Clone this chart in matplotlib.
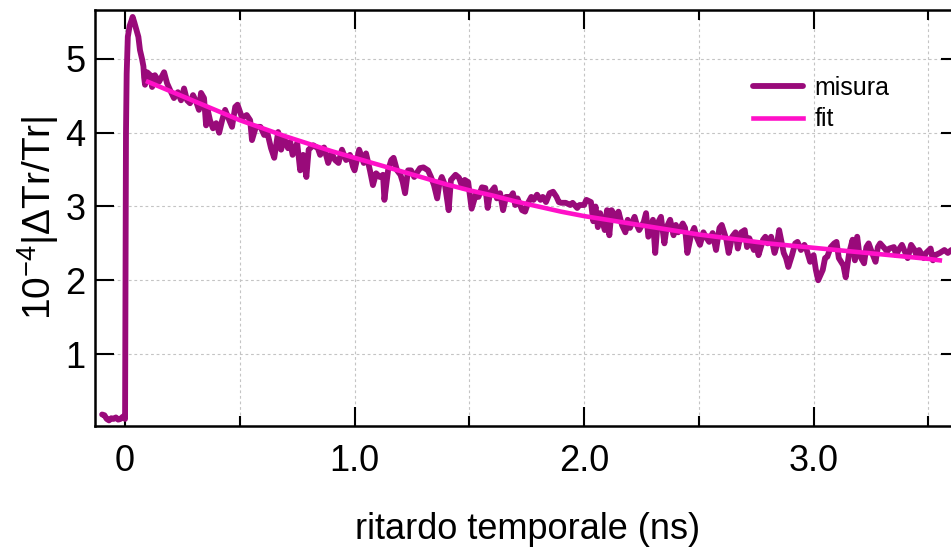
import matplotlib
matplotlib.use("Agg")
import matplotlib.pyplot as plt

plt.rcParams['font.family'] = ['Liberation Sans', 'DejaVu Sans']
plt.rcParams['mathtext.fontset'] = 'custom'
plt.rcParams['mathtext.rm'] = 'Liberation Sans'
plt.rcParams['mathtext.it'] = 'Liberation Sans:italic'

# misura: ritardo (ns) e segnale (unita 1e-4)
t_misura = [
    -0.10, -0.09, -0.08, -0.07, -0.06, -0.05, -0.04, -0.03, -0.02, -0.01, 0.000,
    0.002, 0.004, 0.007, 0.012, 0.020, 0.028, 0.033, 0.040, 0.050, 0.058, 0.065,
    0.074, 0.080, 0.083, 0.087, 0.096, 0.110, 0.118, 0.130, 0.148, 0.170, 0.183,
    0.196, 0.213, 0.230, 0.244, 0.257, 0.270, 0.283, 0.296, 0.310, 0.322, 0.331,
    0.344, 0.353, 0.360, 0.370, 0.383, 0.397, 0.410, 0.423, 0.436, 0.450, 0.466,
    0.480, 0.490, 0.510, 0.530, 0.545, 0.553, 0.570, 0.590, 0.606, 0.620, 0.636,
    0.650, 0.667, 0.680, 0.693, 0.710, 0.720, 0.730, 0.750, 0.763, 0.776, 0.790,
    0.800, 0.820, 0.840, 0.850, 0.867, 0.885, 0.900, 0.915, 0.930, 0.945, 0.963,
    0.980, 0.993, 1.000, 1.020, 1.040, 1.050, 1.067, 1.080, 1.094, 1.110, 1.124,
    1.130, 1.146, 1.160, 1.170, 1.185, 1.200, 1.210, 1.220, 1.233, 1.246, 1.260,
    1.270, 1.285, 1.300, 1.320, 1.333, 1.346, 1.360, 1.370, 1.380, 1.394, 1.410,
    1.420, 1.440, 1.455, 1.470, 1.480, 1.495, 1.510, 1.530, 1.540, 1.555, 1.570,
    1.580, 1.590, 1.610, 1.620, 1.634, 1.647, 1.660, 1.680, 1.690, 1.700, 1.710,
    1.730, 1.743, 1.756, 1.770, 1.780, 1.795, 1.810, 1.820, 1.834, 1.850, 1.865,
    1.880, 1.890, 1.900, 1.920, 1.940, 1.950, 1.970, 1.980, 2.000, 2.010, 2.030,
    2.040, 2.050, 2.060, 2.070, 2.090, 2.100, 2.110, 2.120, 2.140, 2.150, 2.165,
    2.180, 2.190, 2.200, 2.220, 2.230, 2.240, 2.260, 2.270, 2.280, 2.300, 2.310,
    2.320, 2.335, 2.350, 2.360, 2.375, 2.390, 2.400, 2.410, 2.430, 2.440, 2.450,
    2.466, 2.480, 2.490, 2.505, 2.520, 2.530, 2.545, 2.560, 2.575, 2.590, 2.600,
    2.620, 2.630, 2.645, 2.660, 2.670, 2.685, 2.700, 2.710, 2.720, 2.740, 2.750,
    2.760, 2.780, 2.790, 2.800, 2.815, 2.830, 2.840, 2.850, 2.870, 2.880, 2.890,
    2.906, 2.920, 2.930, 2.945, 2.960, 2.970, 2.985, 3.000, 3.010, 3.020, 3.040,
    3.050, 3.060, 3.075, 3.090, 3.100, 3.110, 3.130, 3.140, 3.155, 3.170, 3.180,
    3.190, 3.200, 3.220, 3.230, 3.240, 3.255, 3.270, 3.280, 3.290, 3.310, 3.320,
    3.330, 3.350, 3.360, 3.370, 3.385, 3.400, 3.410, 3.425, 3.440, 3.450, 3.460,
    3.480, 3.490, 3.510, 3.520, 3.530, 3.550, 3.570, 3.585, 3.600,
]
s_misura = [
    0.18, 0.17, 0.12, 0.10, 0.13, 0.12, 0.14, 0.11, 0.12, 0.15, 0.12,
    2.00, 4.00, 4.80, 5.30, 5.45, 5.52, 5.57, 5.50, 5.39, 5.30, 5.12,
    5.00, 4.90, 4.75, 4.65, 4.82, 4.78, 4.62, 4.78, 4.69, 4.82, 4.67,
    4.58, 4.47, 4.55, 4.44, 4.60, 4.44, 4.40, 4.51, 4.42, 4.31, 4.54,
    4.47, 4.10, 4.31, 4.17, 4.06, 4.13, 4.00, 4.17, 4.31, 4.20, 4.08,
    4.35, 4.38, 4.20, 4.24, 4.17, 3.90, 4.08, 4.08, 3.97, 4.00, 3.79,
    3.66, 4.01, 3.77, 3.93, 3.79, 3.87, 3.70, 3.86, 3.49, 3.70, 3.40,
    3.77, 3.83, 3.79, 3.70, 3.80, 3.59, 3.72, 3.63, 3.59, 3.77, 3.63,
    3.70, 3.54, 3.49, 3.77, 3.59, 3.72, 3.49, 3.29, 3.45, 3.40, 3.43,
    3.09, 3.49, 3.63, 3.66, 3.49, 3.43, 3.33, 3.18, 3.49, 3.49, 3.40,
    3.45, 3.52, 3.53, 3.49, 3.40, 3.29, 3.11, 3.32, 3.40, 3.29, 2.95,
    3.36, 3.43, 3.39, 3.26, 3.36, 3.33, 2.97, 3.18, 3.13, 3.26, 3.25,
    2.98, 3.18, 3.26, 3.11, 3.18, 2.95, 3.13, 3.13, 3.18, 3.02, 3.11,
    2.95, 2.93, 3.05, 3.13, 3.09, 3.16, 3.09, 3.13, 3.06, 3.18, 3.20,
    3.13, 3.06, 3.05, 3.05, 3.02, 3.05, 2.98, 3.02, 3.02, 3.09, 3.06,
    2.80, 3.00, 2.72, 2.91, 2.68, 2.95, 2.61, 2.95, 2.84, 2.93, 2.75,
    2.65, 2.82, 2.71, 2.86, 2.75, 2.68, 2.79, 2.91, 2.59, 2.82, 2.37,
    2.77, 2.86, 2.50, 2.72, 2.82, 2.61, 2.75, 2.65, 2.77, 2.71, 2.37,
    2.61, 2.71, 2.59, 2.48, 2.65, 2.59, 2.52, 2.64, 2.41, 2.71, 2.75,
    2.55, 2.37, 2.59, 2.65, 2.43, 2.65, 2.68, 2.45, 2.57, 2.41, 2.50,
    2.34, 2.55, 2.59, 2.50, 2.59, 2.37, 2.48, 2.68, 2.37, 2.30, 2.18,
    2.34, 2.50, 2.52, 2.41, 2.48, 2.41, 2.25, 2.34, 2.14, 2.00, 2.14,
    2.30, 2.32, 2.45, 2.50, 2.52, 2.30, 2.20, 2.04, 2.37, 2.55, 2.27,
    2.59, 2.34, 2.23, 2.45, 2.50, 2.37, 2.25, 2.45, 2.50, 2.43, 2.39,
    2.43, 2.45, 2.34, 2.41, 2.48, 2.37, 2.30, 2.48, 2.41, 2.32, 2.41,
    2.30, 2.37, 2.43, 2.27, 2.34, 2.37, 2.41, 2.37, 2.41,
]

# fit
t_fit = [0.1, 0.2, 0.3, 0.4, 0.5, 0.6, 0.7, 0.8, 0.9, 1.0, 1.1, 1.2, 1.3,
         1.4, 1.5, 1.6, 1.7, 1.8, 1.9, 2.0, 2.1, 2.2, 2.3, 2.4, 2.5, 2.6,
         2.7, 2.8, 2.9, 3.0, 3.1, 3.2, 3.3, 3.4, 3.5, 3.55]
s_fit = [4.69, 4.56, 4.43, 4.30, 4.17, 4.06, 3.95, 3.85, 3.75, 3.66, 3.57,
         3.48, 3.39, 3.30, 3.22, 3.15, 3.07, 3.00, 2.93, 2.87, 2.82, 2.77,
         2.72, 2.67, 2.62, 2.58, 2.54, 2.50, 2.47, 2.44, 2.41, 2.38, 2.35,
         2.32, 2.29, 2.27]

major_x = [0, 1, 2, 3]
major_x_labels = ['0', '1.0', '2.0', '3.0']
minor_x = [0.5, 1.5, 2.5, 3.5]
major_y = [1, 2, 3, 4, 5]

fig = plt.figure(figsize=(9.51, 5.48), dpi=100)
ax = fig.add_axes([95 / 951, 1 - 426 / 548, (960 - 95) / 951, (426 - 10) / 548])

ax.plot(t_misura, s_misura, color='#990a7a', lw=4.2, solid_joinstyle='round',
        solid_capstyle='round', label='misura', zorder=3)
ax.plot(t_fit, s_fit, color='#ff10c8', lw=3.3, label='fit', zorder=4)

ax.set_xlim(-0.131, 3.638)
ax.set_ylim(0.024, 5.664)

ax.set_xticks(major_x)
ax.set_xticklabels(major_x_labels)
ax.set_xticks(minor_x, minor=True)
ax.set_yticks(major_y)

ax.tick_params(which='major', direction='in', length=14, width=1.5,
               top=True, right=True, labelsize=26, pad=13)
ax.tick_params(which='minor', direction='in', length=7, width=1.5,
               top=True, right=True)
ax.tick_params(axis='y', which='major', pad=7)

for sp in ax.spines.values():
    sp.set_linewidth(1.8)

ax.grid(True, which='both', axis='x', color='#c4c4c4', lw=0.8, ls=(0, (2.5, 2.5)))
ax.grid(True, which='major', axis='y', color='#c4c4c4', lw=0.8, ls=(0, (2.5, 2.5)))
ax.set_axisbelow(True)

ax.set_xlabel('ritardo temporale (ns)', fontsize=26, labelpad=24)
ax.set_ylabel('10$^{-4}$|ΔTr/Tr|', fontsize=28, labelpad=3)

ax.legend(loc='center', bbox_to_anchor=(0.84, 0.775), frameon=False,
          fontsize=18, handlelength=2.0, handletextpad=0.45, labelspacing=0.3)

fig.savefig('out.png', dpi=100)
